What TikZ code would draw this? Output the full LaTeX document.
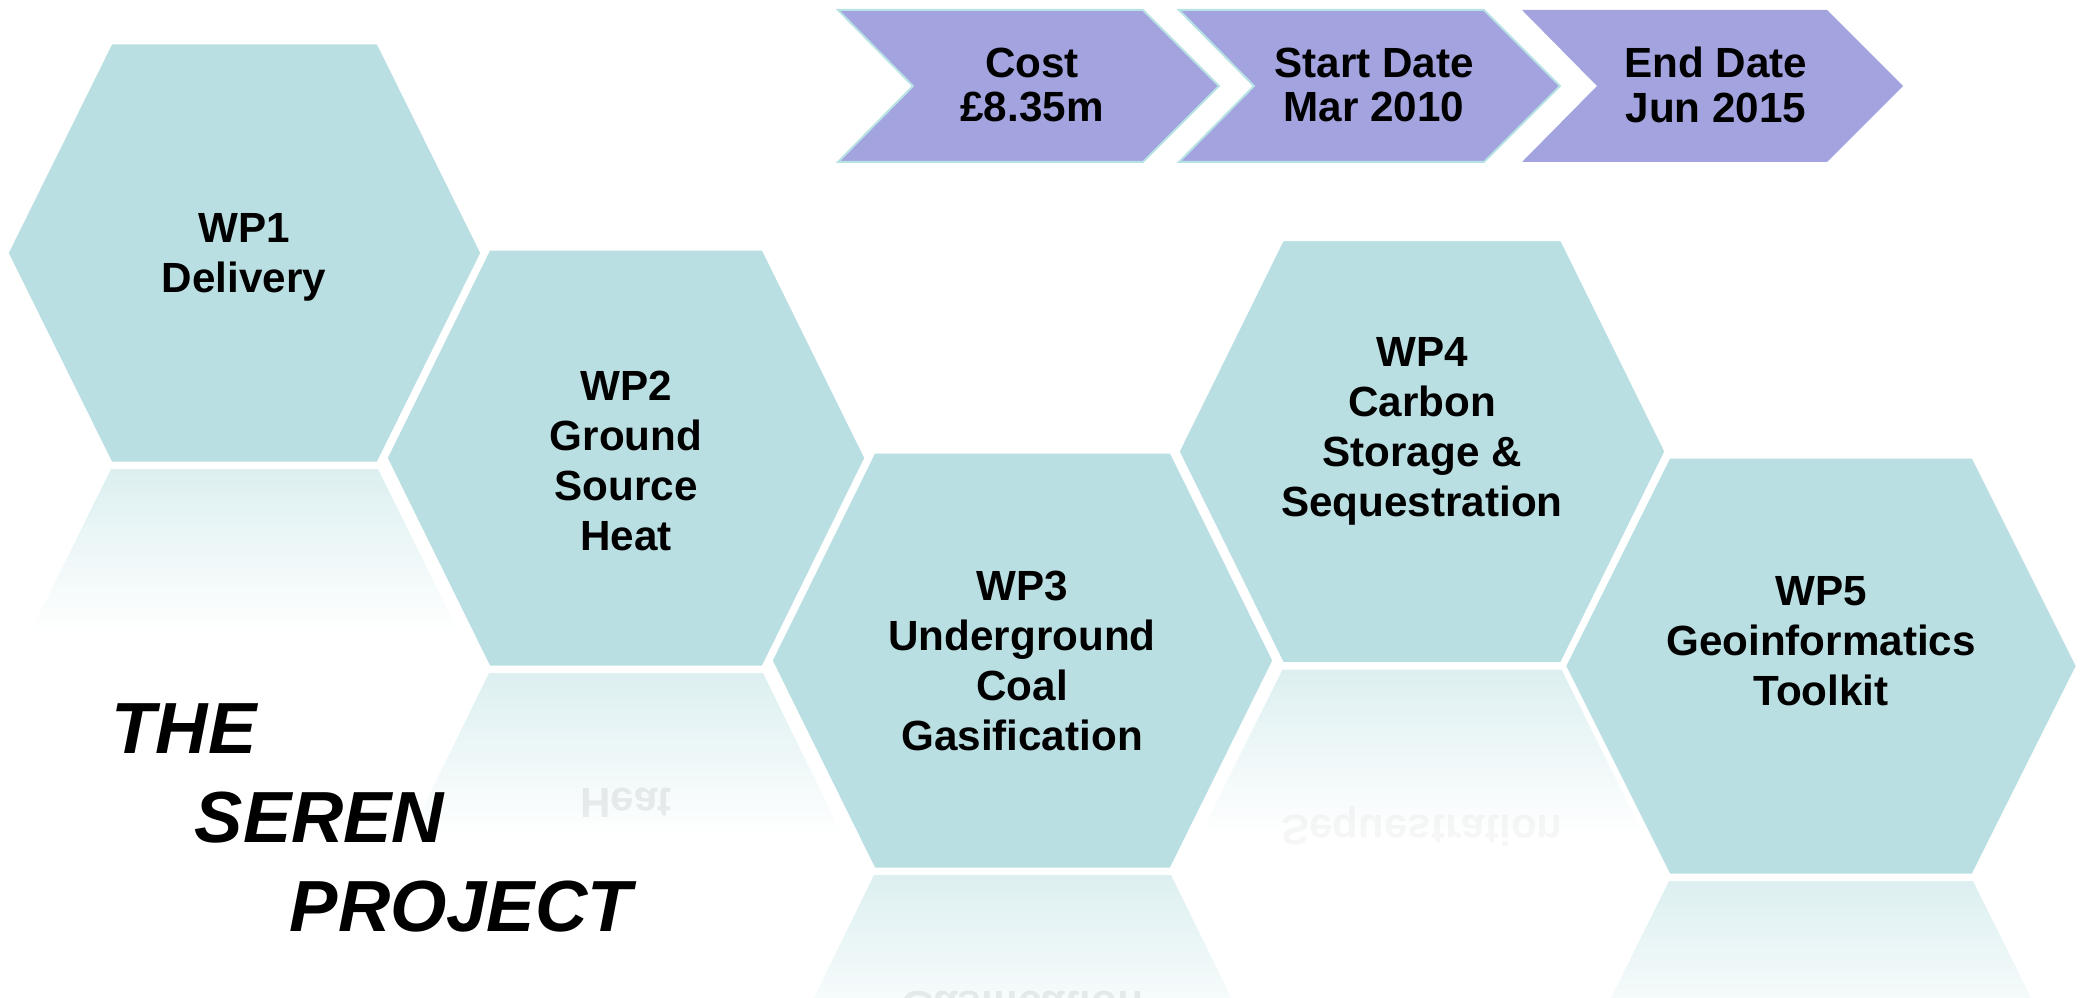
\documentclass[tikz,border=0pt]{standalone}
\usepackage{fontspec}
\setmainfont{Liberation Sans}
\usepackage{tikz}
\usetikzlibrary{positioning}

\definecolor{hexfill}{RGB}{186,223,226}
\definecolor{chevfill}{RGB}{163,163,223}
\definecolor{chevline}{RGB}{183,226,228}

\tikzset{
	hexcell/.style={fill=hexfill, draw=white, line width=0.03cm},
	hexlabel/.style={font=\fontsize{12}{14.2}\selectfont\bfseries, align=center, inner sep=0pt},
	mirror/.style={hexlabel, yscale=-1, text opacity=0.07},
	chevron/.style={fill=chevfill, draw=chevline, line width=0.02cm},
	chevlabel/.style={font=\fontsize{12}{12.7}\selectfont\bfseries, align=center, inner sep=0pt},
	bigtitle/.style={font=\fontsize{20.6}{24}\selectfont\bfseries\itshape, anchor=base west, inner sep=0pt}
}

% hexagon: centre x, centre y, half width, half top edge, half height
\newcommand{\hexcell}[5]{\path[hexcell] (#1-#3,#2) -- (#1-#4,#2-#5) -- (#1+#4,#2-#5) -- (#1+#3,#2) -- (#1+#4,#2+#5) -- (#1-#4,#2+#5) -- cycle;}
% faded mirror image below a hexagon
\newcommand{\hexrefl}[5]{\shade[top color=hexfill!50!white, bottom color=white] (#1-#4,#2+#5+6) -- (#1+#4,#2+#5+6) -- ({#1+#4+(#3-#4)*0.78},#2+#5+170) -- ({#1-#4-(#3-#4)*0.78},#2+#5+170) -- cycle;}
% chevron: left x, style
\newcommand{\chevcell}[2]{\path[#2] (#1,10) -- (#1+305,10) -- (#1+381,86) -- (#1+305,162) -- (#1,162) -- (#1+75,86) -- cycle;}

\begin{document}
\begin{tikzpicture}[x=0.01cm, y=-0.01cm]
	\useasboundingbox (0,0) rectangle (2085,997);
	% reflections
	\hexrefl{244.5}{253}{237.5}{133.5}{210}
	\hexrefl{626}{458}{240}{137}{209}
	\hexrefl{1022.5}{660.5}{251.5}{148.5}{208.5}
	\hexrefl{1422}{451.5}{244}{139.5}{212}
	\hexrefl{1821}{666}{256.5}{152}{209}
	\node[mirror] (wp2m) at (626,803) {Heat};
	\node[mirror] (wp3m) at (1022,1007) {Gasification};
	\node[mirror, text opacity=0.035] (wp4m) at (1422,826) {Sequestration};
	% work packages
	\hexcell{244.5}{253}{237.5}{133.5}{210}
	\hexcell{626}{458}{240}{137}{209}
	\hexcell{1022.5}{660.5}{251.5}{148.5}{208.5}
	\hexcell{1422}{451.5}{244}{139.5}{212}
	\hexcell{1821}{666}{256.5}{152}{209}
	\node[hexlabel] (wp1) at (244,257) {WP1\\Delivery};
	\node[hexlabel] (wp2) at (626,461) {WP2\\Ground\\Source\\Heat};
	\node[hexlabel] (wp3) at (1022,661) {WP3\\Underground\\Coal\\Gasification};
	\node[hexlabel] (wp4) at (1422,431) {WP4\\Carbon\\Storage \&\\Sequestration};
	\node[hexlabel] (wp5) at (1821,641) {WP5\\Geoinformatics\\Toolkit};
	% cost and dates
	\chevcell{838}{chevron}
	\chevcell{1179}{chevron}
	\chevcell{1522}{chevron, draw=none}
	\node[chevlabel] (cost) at (1032,85) {Cost\\£8.35m};
	\node[chevlabel] (start) at (1374,85) {Start Date\\Mar 2010};
	\node[chevlabel] (finish) at (1716,85) {End Date\\Jun 2015};
	% title
	\node[bigtitle] (the) at (111,753) {THE};
	\node[bigtitle] (seren) at (194,842) {SEREN};
	\node[bigtitle] (project) at (289,931) {PROJECT};
\end{tikzpicture}
\end{document}
